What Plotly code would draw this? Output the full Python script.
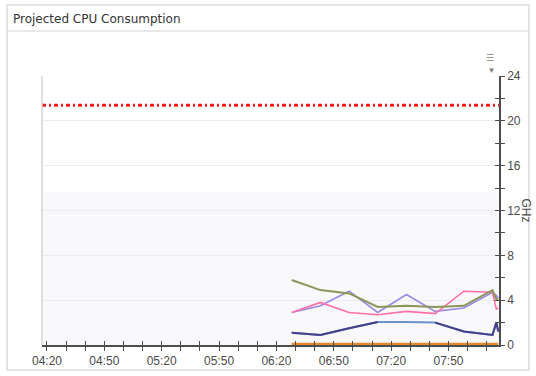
import plotly.graph_objects as go

# Sample timestamps (same day) and per-series projected CPU use in GHz
day = "2024-01-01 "
times = ["06:28", "06:43", "06:58", "07:13", "07:28", "07:43", "07:58", "08:13", "08:15", "08:16"]
olive_vals = [5.8, 4.9, 4.6, 3.4, 3.5, 3.4, 3.5, 4.9, 4.1, 4.1]
lilac_vals = [2.9, 3.5, 4.8, 2.9, 4.5, 3.0, 3.3, 4.7, 4.4, 4.2]
pink_vals = [2.9, 3.8, 2.9, 2.7, 3.0, 2.8, 4.8, 4.7, 3.2, 3.3]
steel_vals = [1.1, 0.9, 1.5, 2.05, 2.05, 2.0, 1.2, 0.9, 2.0, 1.2]
navy_vals = [1.1, 0.9, 1.5, 2.05, None, 2.0, 1.2, 0.9, 2.0, 1.2]
orange_vals = [0.1] * len(times)
capacity_ghz = 21.4

x_start = day + "04:17:24"
x_end = day + "08:16:24"
y_max = 24

x = [day + t for t in times]

fig = go.Figure()

# Light shading for the lower band of the plot area
fig.add_shape(type="rect", xref="paper", yref="y", x0=0, x1=1, y0=0, y1=13.6,
              fillcolor="#f8f8fb", line_width=0, layer="below")

series = [
    ("steel", steel_vals, "#6a93c8", 2),
    ("navy", navy_vals, "#46408f", 2),
    ("lilac", lilac_vals, "#9c88e4", 1.6),
    ("pink", pink_vals, "#ff6fa6", 1.6),
    ("olive", olive_vals, "#8a9658", 2),
    ("orange", orange_vals, "#e8882c", 2.5),
]
for name, vals, color, width in series:
    fig.add_trace(go.Scatter(x=x, y=vals, mode="lines", name=name,
                             line=dict(color=color, width=width),
                             connectgaps=False, showlegend=False))

# Capacity threshold line
fig.add_trace(go.Scatter(x=[x_start, x_end], y=[capacity_ghz, capacity_ghz], mode="lines",
                         line=dict(color="#ff1a1a", width=3, dash="4px,3px,2px,3px"),
                         showlegend=False))

# Helper trace so the overlay axes (inside tick marks) get drawn
fig.add_trace(go.Scatter(x=[x_start], y=[0], xaxis="x2", yaxis="y2", mode="markers",
                         marker=dict(opacity=0), showlegend=False, hoverinfo="skip"))

tick_font = dict(family="Liberation Sans, Arial, sans-serif", size=12, color="#4a4a4a")
axis_col = "#4d4d4d"

fig.update_layout(
    width=536, height=376,
    margin=dict(l=42, r=37, t=76, b=31, autoexpand=False),
    paper_bgcolor="white", plot_bgcolor="white",
    xaxis=dict(type="date", range=[x_start, x_end], tickformat="%H:%M",
               tick0=day + "04:20", dtick=30 * 60 * 1000, automargin=False,
               ticks="outside", ticklen=4, tickcolor=axis_col, tickwidth=1,
               minor=dict(dtick=10 * 60 * 1000, tick0=day + "04:20", ticks="outside",
                          ticklen=4, tickcolor=axis_col, showgrid=False),
               showline=True, linecolor=axis_col, linewidth=1.5,
               showgrid=False, zeroline=False, tickfont=tick_font),
    yaxis=dict(side="right", range=[0, y_max], dtick=4, tick0=0, automargin=False,
               ticks="outside", ticklen=4, tickcolor=axis_col,
               minor=dict(dtick=2, ticks="outside", ticklen=4, tickcolor=axis_col, showgrid=False),
               showline=True, linecolor=axis_col, linewidth=1.5,
               showgrid=True, gridcolor="#ececf0", gridwidth=1,
               zeroline=False, tickfont=tick_font),
    xaxis2=dict(type="date", overlaying="x", range=[x_start, x_end], automargin=False,
                tick0=day + "04:20", dtick=10 * 60 * 1000,
                ticks="inside", ticklen=4, tickcolor=axis_col, showticklabels=False,
                showgrid=False, zeroline=False, showline=False),
    yaxis2=dict(overlaying="y", side="right", range=[0, y_max], dtick=2, tick0=0,
                automargin=False,
                ticks="inside", ticklen=4, tickcolor=axis_col, showticklabels=False,
                showgrid=False, zeroline=False, showline=False),
)

# Plot area left border
fig.add_shape(type="line", xref="paper", yref="paper", x0=0, x1=0, y0=0, y1=1,
              line=dict(color="#d6d6d6", width=1.5))

# Panel frame and title bar
fig.add_shape(type="rect", xref="paper", yref="paper",
              x0=(7 - 42) / 457, x1=(529 - 42) / 457,
              y0=(345 - 370) / 269, y1=(345 - 5) / 269,
              line=dict(color="#c9c9c9", width=1), fillcolor="rgba(0,0,0,0)", layer="below")
fig.add_shape(type="line", xref="paper", yref="paper",
              x0=(7 - 42) / 457, x1=(529 - 42) / 457,
              y0=(345 - 31) / 269, y1=(345 - 31) / 269,
              line=dict(color="#d3d3d3", width=1))

fig.add_annotation(text="Projected CPU Consumption", xref="paper", yref="paper",
                   x=(11 - 42) / 457, y=(345 - 19) / 269, xanchor="left", yanchor="middle",
                   showarrow=False,
                   font=dict(family="DejaVu Sans, sans-serif", size=12, color="#333333"))

# Unit label on the right axis
fig.add_annotation(text="GHz", xref="paper", yref="y", x=(526 - 42) / 457, y=12,
                   textangle=90, showarrow=False, xanchor="center", yanchor="middle",
                   font=dict(family="Liberation Sans, Arial, sans-serif", size=12, color="#4a4a4a"))

# Chart menu glyph
fig.add_annotation(text="☰<br> ▾", xref="paper", yref="paper", x=(490 - 42) / 457,
                   y=(345 - 64) / 269, showarrow=False, xanchor="center", yanchor="middle",
                   align="center",
                   font=dict(family="DejaVu Sans, sans-serif", size=9, color="#7a7a7a"))

fig.write_html("out.html")
